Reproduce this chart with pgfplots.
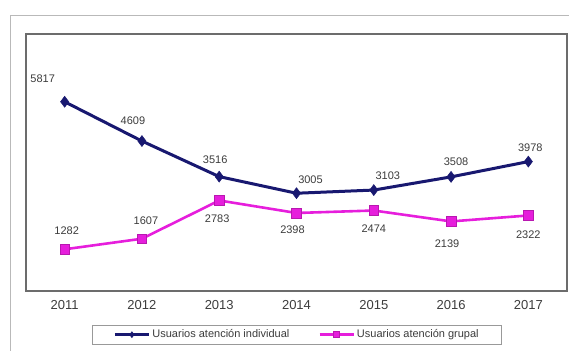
\documentclass[border=0pt]{standalone}
\usepackage{pgfplots}
\usepackage{pgfplotstable}
\pgfplotsset{compat=1.18}
\usepackage{fontspec}
\setmainfont{Liberation Sans}
\definecolor{navyline}{RGB}{24,24,112}
\definecolor{magline}{RGB}{230,30,220}
\definecolor{lbl}{RGB}{60,60,60}
\pgfplotstableread{
x y dx dy lbl
0 5817 -22 23 5817
1 4609 -9 20 4609
2 3516 -4 17 3516
3 3005 14 14 3005
4 3103 14 14 3103
5 3508 5 15 3508
6 3978 2 14 3978
}\indiv
\pgfplotstableread{
x y dx dy lbl
0 1282 2 19 1282
1 1607 4 18 1607
2 2783 -2 -18 2783
3 2398 -4 -17 2398
4 2474 0 -18 2474
5 2139 -4 -22 2139
6 2322 0 -19 2322
}\grupal
\begin{document}
\begin{tikzpicture}
\path[use as bounding box] (0pt,0pt) rectangle (569pt,350pt);
\draw[gray!55, line width=0.8pt] (10pt,-5pt) -- (10pt,335pt) -- (575pt,335pt);
\begin{axis}[
  at={(26pt,59pt)}, anchor=south west, scale only axis,
  width=541pt, height=257pt,
  xmin=-0.5, xmax=6.5, ymin=0, ymax=7900,
  xtick={0,1,2,3,4,5,6},
  xticklabels={2011,2012,2013,2014,2015,2016,2017},
  ytick=\empty,
  major tick length=0pt,
  axis line style={draw=gray!85!black, line width=1.2pt},
  xticklabel style={font=\fontsize{13}{13}\selectfont, text=lbl, yshift=-6pt},
  clip=false,
  point meta=explicit symbolic,
  visualization depends on={\thisrow{dx}\as\dx},
  visualization depends on={\thisrow{dy}\as\dy},
  nodes near coords,
  nodes near coords style={anchor=center, xshift=\dx pt, yshift=\dy pt,
     font=\fontsize{11}{11}\selectfont, text=lbl},
  legend columns=2,
  legend style={at={(0.501,-0.170)}, anchor=center, draw=gray!80,
     line width=0.6pt, font=\fontsize{11}{12}\selectfont, text=lbl,
     inner xsep=21pt, inner ysep=2.5pt,
     /tikz/every even column/.append style={column sep=27pt}},
  legend image code/.code={\draw[mark repeat=2,mark phase=2,#1, mark size=3pt]
     plot coordinates {(0pt,0pt) (17pt,0pt) (34pt,0pt)};},
]
\addplot[navyline, line width=3pt, mark=diamond*, mark size=5.5pt,
  mark options={fill=navyline, line width=0.5pt}]
  table[x=x, y=y, meta=lbl] {\indiv};
\addlegendentry{Usuarios atención individual}
\addplot[magline, line width=2.6pt, mark=square*, mark size=4.8pt,
  mark options={fill=magline, draw=magline!80!black, line width=0.5pt}]
  table[x=x, y=y, meta=lbl] {\grupal};
\addlegendentry{Usuarios atención grupal}
\end{axis}
\end{tikzpicture}
\end{document}
